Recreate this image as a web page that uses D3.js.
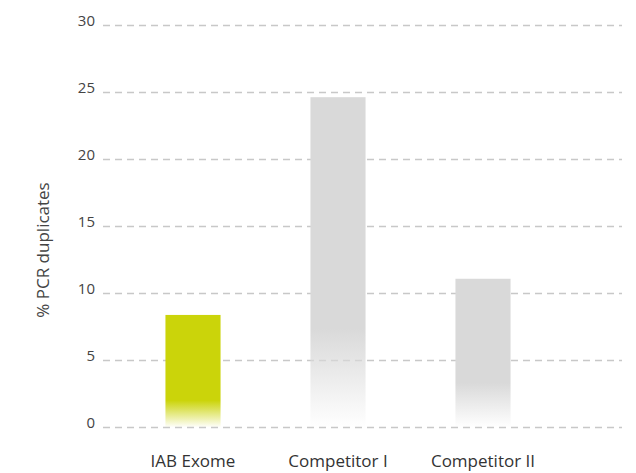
<!DOCTYPE html>
<html>
<head>
<meta charset="utf-8">
<script src="https://cdn.jsdelivr.net/npm/d3@7"></script>
<style>
  body { margin: 0; background: #fff; }
  text { font-family: "Open Sans", sans-serif; }
</style>
</head>
<body>
<div id="chart"></div>
<script>
// chart data
const categories = ["IAB Exome", "Competitor I", "Competitor II"];
const values = [8.4, 24.65, 11.1];
const barColors = ["#cbd40a", "#d9d9d9", "#d9d9d9"];
const fadeStart = [0.76, 0.7, 0.7];
const yTicks = [0, 5, 10, 15, 20, 25, 30];

const width = 636, height = 473;

const svg = d3.select("#chart").append("svg")
    .attr("width", width)
    .attr("height", height);

const y = d3.scaleLinear().domain([0, 30]).range([427.5, 25.5]);
const x = d3.scaleBand()
    .domain(categories)
    .range([120.5, 555.5])
    .paddingInner(0.62)
    .paddingOuter(0.31);

// gridlines
svg.append("g").selectAll("line")
    .data(yTicks)
    .enter()
    .append("line")
    .attr("x1", 103)
    .attr("x2", 622)
    .attr("y1", d => y(d))
    .attr("y2", d => y(d))
    .style("stroke", "#c8c8c8")
    .style("stroke-width", 1.3)
    .style("stroke-dasharray", "7,5");

// tick labels
svg.append("g").selectAll("text")
    .data(yTicks)
    .enter()
    .append("text")
    .attr("x", 95)
    .attr("y", d => y(d))
    .attr("dy", "0.05em")
    .attr("text-anchor", "end")
    .style("font-size", "15px")
    .style("fill", "#444")
    .text(d => d);

// gradients so the bars fade out at the bottom
const defs = svg.append("defs");
categories.forEach((c, i) => {
    const g = defs.append("linearGradient")
        .attr("id", "grad" + i)
        .attr("x1", 0).attr("y1", 0)
        .attr("x2", 0).attr("y2", 1);
    g.append("stop").attr("offset", 0).attr("stop-color", barColors[i]);
    g.append("stop").attr("offset", fadeStart[i]).attr("stop-color", barColors[i]);
    g.append("stop").attr("offset", 1).attr("stop-color", barColors[i]).attr("stop-opacity", 0);
});

// bars
svg.append("g").selectAll("rect")
    .data(values)
    .enter()
    .append("rect")
    .attr("x", (d, i) => x(categories[i]))
    .attr("width", x.bandwidth())
    .attr("y", d => y(d))
    .attr("height", d => y(0) - y(d))
    .attr("fill", (d, i) => "url(#grad" + i + ")");

// category labels
svg.append("g").selectAll("text")
    .data(categories)
    .enter()
    .append("text")
    .attr("x", d => x(d) + x.bandwidth() / 2)
    .attr("y", 467)
    .attr("text-anchor", "middle")
    .style("font-size", "17px")
    .style("fill", "#333")
    .text(d => d);

// y axis title
svg.append("text")
    .attr("transform", "translate(49,250) rotate(-90)")
    .attr("text-anchor", "middle")
    .style("font-size", "17px")
    .style("fill", "#444")
    .text("% PCR duplicates");
</script>
</body>
</html>
